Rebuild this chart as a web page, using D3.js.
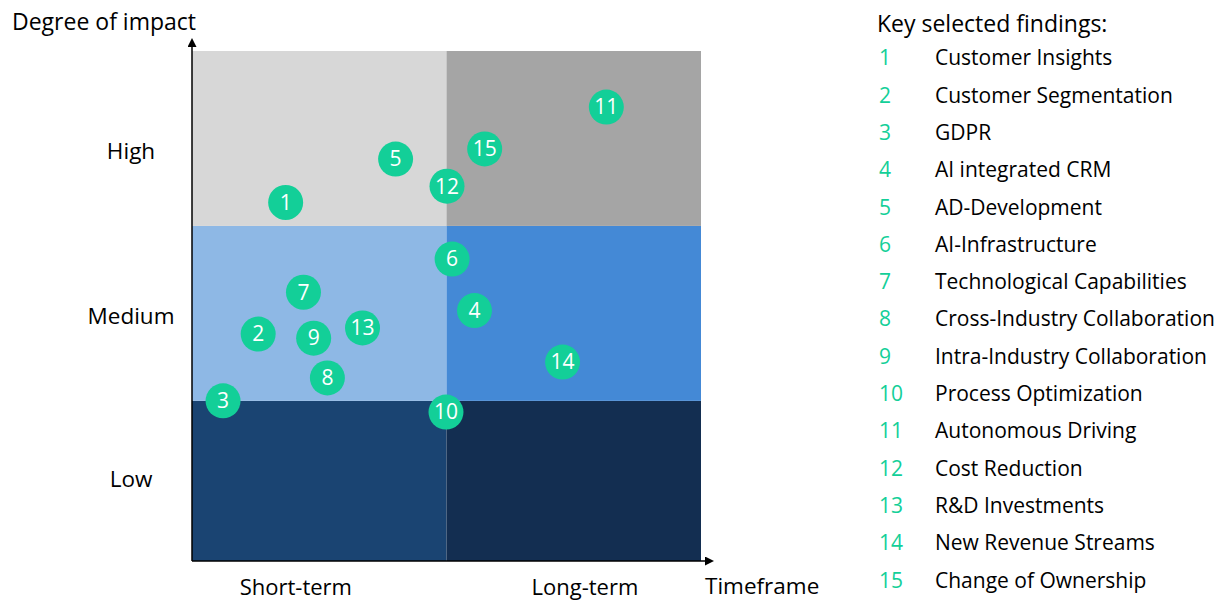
<!DOCTYPE html>
<html>
<head>
<meta charset="utf-8">
<script src="https://cdn.jsdelivr.net/npm/d3@7"></script>
<style>
  body { margin: 0; background: #fff; }
  svg text { font-family: 'Open Sans', sans-serif; }
</style>
</head>
<body>
<script>
// findings: id, name, timeframe (0-100), impact (0-100)
var ids = [1, 2, 3, 4, 5, 6, 7, 8, 9, 10, 11, 12, 13, 14, 15]
var names = ['Customer Insights', 'Customer Segmentation', 'GDPR', 'AI integrated CRM', 'AD-Development',
  'AI-Infrastructure', 'Technological Capabilities', 'Cross-Industry Collaboration', 'Intra-Industry Collaboration',
  'Process Optimization', 'Autonomous Driving', 'Cost Reduction', 'R&D Investments', 'New Revenue Streams',
  'Change of Ownership']
var timeframe = [18.4, 13.0, 6.1, 55.5, 40.0, 51.1, 21.9, 26.6, 23.9, 49.9, 81.4, 50.1, 33.5, 72.8, 57.5]
var impact = [70.3, 44.5, 31.4, 49.1, 78.8, 59.2, 52.7, 35.9, 43.7, 29.2, 89.0, 73.5, 45.7, 39.0, 80.8]

var timeBreaks = [0, 50, 100]
var impactBreaks = [0, 31.4, 65.7, 100]
var impactLabels = ['Low', 'Medium', 'High']
var impactTicks = [16, 48, 80.3]
var timeLabels = ['Short-term', 'Long-term']
var timeTicks = [20.3, 77.1]
// colours by [impact row][timeframe col]
var cellColors = [['#1a4472', '#132e51'], ['#8eb8e5', '#4489d6'], ['#d7d7d7', '#a5a5a5']]

var width = 1224
var height = 601
var bubbleColor = '#13cf98'

var svg = d3.select('body').append('svg').attr('width', width).attr('height', height)

var x = d3.scaleLinear().domain([0, 100]).range([192, 701])
var y = d3.scaleLinear().domain([0, 100]).range([561, 51])

// quadrant cells
var cells = []
impactLabels.forEach((l, r) => {
  timeLabels.forEach((t, c) => {
    cells.push({ x0: timeBreaks[c], x1: timeBreaks[c + 1], y0: impactBreaks[r], y1: impactBreaks[r + 1], fill: cellColors[r][c] })
  })
})
svg.append('g').selectAll('rect').data(cells).enter().append('rect')
  .attr('x', d => x(d.x0))
  .attr('y', d => y(d.y1))
  .attr('width', d => x(d.x1) - x(d.x0))
  .attr('height', d => y(d.y0) - y(d.y1))
  .attr('fill', d => d.fill)

// axes
var defs = svg.append('defs')
defs.append('marker').attr('id', 'arrow').attr('viewBox', '0 0 10 10')
  .attr('refX', 0).attr('refY', 5).attr('markerWidth', 6).attr('markerHeight', 6)
  .attr('orient', 'auto')
  .append('path').attr('d', 'M0,0L10,5L0,10Z').attr('fill', '#000')

svg.append('line').attr('x1', x(0)).attr('x2', x(0)).attr('y1', y(0)).attr('y2', 47)
  .attr('stroke', '#000').attr('stroke-width', 1.5).attr('marker-end', 'url(#arrow)')
svg.append('line').attr('x1', x(0)).attr('x2', 705).attr('y1', y(0)).attr('y2', y(0))
  .attr('stroke', '#000').attr('stroke-width', 1.5).attr('marker-end', 'url(#arrow)')

var yAxis = d3.axisLeft(y).tickValues(impactTicks).tickSize(0).tickFormat((d, i) => impactLabels[i])
var gy = svg.append('g').attr('transform', `translate(${x(0)},0)`).call(yAxis)
gy.select('.domain').remove()
gy.selectAll('text').attr('x', -61).attr('text-anchor', 'middle')
  .attr('font-family', 'Open Sans, sans-serif').attr('font-size', 22.5).attr('fill', '#000')

var xAxis = d3.axisBottom(x).tickValues(timeTicks).tickSize(0).tickFormat((d, i) => timeLabels[i])
var gx = svg.append('g').attr('transform', `translate(0,${y(0)})`).call(xAxis)
gx.select('.domain').remove()
gx.selectAll('text').attr('y', 34).attr('dy', 0)
  .attr('font-family', 'Open Sans, sans-serif').attr('font-size', 22).attr('fill', '#000')

svg.append('text').text('Degree of impact').attr('x', 12).attr('y', 30).attr('font-size', 23)
svg.append('text').text('Timeframe').attr('x', 705).attr('y', 594).attr('font-size', 22.5)

// bubbles
var findings = ids.map((id, i) => ({ id: id, name: names[i], t: timeframe[i], v: impact[i] }))
var b = svg.append('g').selectAll('g').data(findings).enter().append('g')
  .attr('transform', d => `translate(${x(d.t)},${y(d.v)})`)
b.append('circle').attr('r', 17.5).attr('fill', bubbleColor)
b.append('text').text(d => d.id).attr('text-anchor', 'middle').attr('dy', '0.35em')
  .attr('fill', '#fff').attr('font-size', 21)

// legend
var legend = svg.append('g')
legend.append('text').text('Key selected findings:').attr('x', 877).attr('y', 32).attr('font-size', 23)
var rows = legend.selectAll('g.row').data(findings).enter().append('g').attr('class', 'row')
  .attr('transform', (d, i) => `translate(0,${58 + i * 37.3})`)
rows.append('text').text(d => d.id).attr('x', 879).attr('dy', '0.35em').attr('fill', bubbleColor).attr('font-size', 21)
rows.append('text').text(d => d.name).attr('x', 935).attr('dy', '0.35em').attr('fill', '#000').attr('font-size', 21)
</script>
</body>
</html>
